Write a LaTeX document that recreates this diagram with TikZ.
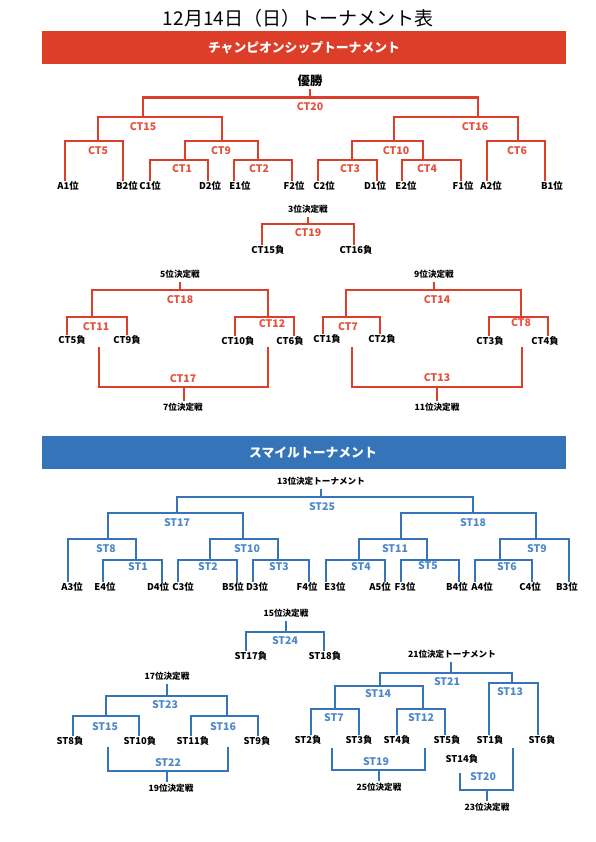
\documentclass[tikz,border=0pt]{standalone}
\usepackage{fontspec}
\setmainfont{Noto Sans CJK JP}
\newfontfamily\jp{Noto Sans CJK JP}
\definecolor{cred}{HTML}{DD3E2A}
\definecolor{ctxt}{HTML}{E4513E}
\definecolor{cblue}{HTML}{3574B8}
\definecolor{btxt}{HTML}{4C88C8}
\newcommand\bra[6]{\draw[#1] (#2,0 |- #5) -- (#2,#4) -- (#3,#4) -- (#3,0 |- #6);}
\tikzset{
  rl/.style={draw=cred, line width=2.9pt},
  bl/.style={draw=cblue, line width=2.9pt},
  lab/.style={font=\jp\bfseries\fontsize{9.4}{10}\selectfont, inner xsep=1pt, inner ysep=1.5pt, text height=6.8pt, text depth=1.2pt},
  rc/.style={font=\jp\bfseries\fontsize{10.5}{11}\selectfont, text=ctxt, inner sep=1pt},
  bc/.style={font=\jp\bfseries\fontsize{10.5}{11}\selectfont, text=btxt, inner sep=1pt},
  hd/.style={font=\jp\bfseries\fontsize{8.6}{9}\selectfont, inner xsep=1pt, inner ysep=3pt, text height=6.3pt, text depth=1.2pt},
  win/.style={font=\jp\bfseries\fontsize{12.5}{13}\selectfont, inner sep=1pt, text height=9.5pt, text depth=1.5pt},
  banner/.style={minimum width=524pt, minimum height=33.4pt, inner sep=0pt},
  bantext/.style={font=\jp\bfseries\fontsize{12.8}{13}\selectfont, text=white, inner sep=0pt}
}
\begin{document}
\begin{tikzpicture}[x=1pt,y=-1pt]
\useasboundingbox[fill=white] (0,0) rectangle (595,842);
% title
\node[font=\jp\fontsize{19}{20}\selectfont] (title) at (298,18) {12月14日（日）トーナメント表};
% red banner
\node[banner, fill=cred] (banC) at (304,47.3) {};
\node[bantext] (banCt) at (304,47.3) {チャンピオンシップトーナメント};
% ===== championship main =====
\node[win] (yusho) at (310,82) {優勝};
\foreach \n/\x/\t in {A1/68/A1位, B2/127/B2位, C1/150/C1位, D2/210/D2位, E1/240/E1位, F2/294/F2位, C2/324/C2位, D1/375/D1位, E2/406/E2位, F1/463/F1位, A2/491/A2位, B1/552/B1位}
  \node[lab] (\n) at (\x,187) {\t};
\draw[rl] (yusho.south) -- (310,97.7);
\bra{rl}{143}{478}{97.7}{0,117}{0,117}
\bra{rl}{98}{222}{117}{0,141}{0,141}
\bra{rl}{394}{518}{117}{0,141}{0,141}
\bra{rl}{65}{123}{141}{A1.north}{B2.north}
\bra{rl}{185}{258}{141}{0,160}{0,160}
\bra{rl}{352}{423}{141}{0,160}{0,160}
\bra{rl}{487}{545}{141}{A2.north}{B1.north}
\bra{rl}{150}{208}{160}{C1.north}{D2.north}
\bra{rl}{234}{292}{160}{E1.north}{F2.north}
\bra{rl}{318}{377}{160}{C2.north}{D1.north}
\bra{rl}{402}{461}{160}{E2.north}{F1.north}
\node[rc] (ct20) at (310,107) {CT20};
\node[rc] (ct15) at (143,127) {CT15};
\node[rc] (ct16) at (475,127) {CT16};
\node[rc] (ct5) at (98,151) {CT5};
\node[rc] (ct9) at (221,151) {CT9};
\node[rc] (ct10) at (396,151) {CT10};
\node[rc] (ct6) at (517,151) {CT6};
\node[rc] (ct1) at (182,169) {CT1};
\node[rc] (ct2) at (259,169) {CT2};
\node[rc] (ct3) at (350,169) {CT3};
\node[rc] (ct4) at (427,169) {CT4};
% ===== 3rd place =====
\node[hd] (h3) at (308,210) {3位決定戦};
\node[lab] (L15) at (268,251) {CT15負};
\node[lab] (L16) at (356,251) {CT16負};
\draw[rl] (h3.south) -- (308,224);
\bra{rl}{262}{354}{224}{L15.north}{L16.north}
\node[rc] (ct19) at (308,233) {CT19};
% ===== 5th place =====
\node[hd] (h5) at (180,275) {5位決定戦};
\node[lab] (L5) at (72,341) {CT5負};
\node[lab] (L9) at (127,341) {CT9負};
\node[lab] (L10) at (238,342) {CT10負};
\node[lab] (L6) at (290,342) {CT6負};
\draw[rl] (h5.south) -- (180,290);
\bra{rl}{92}{268}{290}{0,317}{0,317}
\bra{rl}{67}{127}{317}{L5.north}{L9.north}
\bra{rl}{235}{294}{317}{L10.north}{L6.north}
\node[rc] (ct18) at (180,300) {CT18};
\node[rc] (ct11) at (96,327) {CT11};
\node[rc] (ct12) at (272,324) {CT12};
\node[hd] (h7) at (183,408) {7位決定戦};
\coordinate (c17a) at (99,347);
\coordinate (c17b) at (268,347);
\draw[rl] (c17a) -- (99,387) -- (268,387) -- (c17b);
\draw[rl] (184,387) -- (184,0 |- h7.north);
\node[rc] (ct17) at (183,379) {CT17};
% ===== 9th place =====
\node[hd] (h9) at (434,275) {9位決定戦};
\node[lab] (L1) at (327,340) {CT1負};
\node[lab] (L2) at (382,340) {CT2負};
\node[lab] (L3) at (490,342) {CT3負};
\node[lab] (L4) at (545,342) {CT4負};
\draw[rl] (h9.south) -- (434,290);
\bra{rl}{346}{521}{290}{0,317}{0,317}
\bra{rl}{323}{380}{317}{L1.north}{L2.north}
\bra{rl}{489}{548}{317}{L3.north}{L4.north}
\node[rc] (ct14) at (437,300) {CT14};
\node[rc] (ct7) at (348,327) {CT7};
\node[rc] (ct8) at (521,323) {CT8};
\node[hd] (h11) at (437,408) {11位決定戦};
\coordinate (c13a) at (352,347);
\coordinate (c13b) at (522,347);
\draw[rl] (c13a) -- (352,387) -- (522,387) -- (c13b);
\draw[rl] (437,387) -- (437,0 |- h11.north);
\node[rc] (ct13) at (437,378) {CT13};
% ===== smile banner =====
\node[banner, fill=cblue] (banS) at (304,452.5) {};
\node[bantext] (banSt) at (313,453) {スマイルトーナメント};
% ===== 13th place tournament =====
\node[hd] (h13) at (321,482) {13位決定トーナメント};
\foreach \n/\x/\t in {A3/72/A3位, E4/105/E4位, D4/158/D4位, C3/183/C3位, B5/233/B5位, D3/257/D3位, F4/307/F4位, E3/335/E3位, A5/380/A5位, F3/405/F3位, B4/457/B4位, A4/482/A4位, C4/530/C4位, B3/567/B3位}
  \node[lab] (\n) at (\x,588) {\t};
\draw[bl] (h13.south) -- (321,497);
\bra{bl}{177}{473}{497}{0,513}{0,513}
\bra{bl}{108}{243}{513}{0,539}{0,539}
\bra{bl}{401}{536}{513}{0,539}{0,539}
\bra{bl}{68}{136}{539}{A3.north}{0,560}
\bra{bl}{210}{278}{539}{0,560}{0,560}
\bra{bl}{359}{427}{539}{0,560}{0,560}
\bra{bl}{500}{569}{539}{0,560}{B3.north}
\bra{bl}{103}{162}{560}{E4.north}{D4.north}
\bra{bl}{178}{237}{560}{C3.north}{B5.north}
\bra{bl}{253}{309}{560}{D3.north}{F4.north}
\bra{bl}{326}{385}{560}{E3.north}{A5.north}
\bra{bl}{401}{459}{560}{F3.north}{B4.north}
\bra{bl}{475}{532}{560}{A4.north}{C4.north}
\node[bc] (st25) at (322,507) {ST25};
\node[bc] (st17) at (177,523) {ST17};
\node[bc] (st18) at (473,523) {ST18};
\node[bc] (st8) at (106,549) {ST8};
\node[bc] (st10) at (247,549) {ST10};
\node[bc] (st11) at (395,549) {ST11};
\node[bc] (st9) at (537,549) {ST9};
\node[bc] (st1) at (138,567) {ST1};
\node[bc] (st2) at (208,567) {ST2};
\node[bc] (st3) at (279,567) {ST3};
\node[bc] (st4) at (361,567) {ST4};
\node[bc] (st5) at (428,566) {ST5};
\node[bc] (st6) at (507,567) {ST6};
% ===== 15th place =====
\node[hd] (h15) at (286,614) {15位決定戦};
\node[lab] (S17L) at (251,657) {ST17負};
\node[lab] (S18L) at (325,657) {ST18負};
\draw[bl] (h15.south) -- (286,632);
\bra{bl}{246}{324}{632}{S17L.north}{S18L.north}
\node[bc] (st24) at (285,641) {ST24};
% ===== 17th place =====
\node[hd] (h17) at (167,677) {17位決定戦};
\node[lab] (S8L) at (70,742) {ST8負};
\node[lab] (S10L) at (140,742) {ST10負};
\node[lab] (S11L) at (193,742) {ST11負};
\node[lab] (S9L) at (257,742) {ST9負};
\draw[bl] (h17.south) -- (167,696);
\bra{bl}{106}{227}{696}{0,716}{0,716}
\bra{bl}{73}{139}{716}{S8L.north}{S10L.north}
\bra{bl}{191}{258}{716}{S11L.north}{S9L.north}
\node[bc] (st23) at (165,705) {ST23};
\node[bc] (st15) at (105,727) {ST15};
\node[bc] (st16) at (223,727) {ST16};
\node[hd] (h19) at (171,789) {19位決定戦};
\coordinate (c22a) at (108,747);
\coordinate (c22b) at (228,747);
\draw[bl] (c22a) -- (108,771) -- (228,771) -- (c22b);
\draw[bl] (167,771) -- (167,0 |- h19.north);
\node[bc] (st22) at (168,763) {ST22};
% ===== 21st place tournament =====
\node[hd] (h21) at (452,655) {21位決定トーナメント};
\node[lab] (S2L) at (308,741) {ST2負};
\node[lab] (S3L) at (359,741) {ST3負};
\node[lab] (S4L) at (397,741) {ST4負};
\node[lab] (S5L) at (447,741) {ST5負};
\node[lab] (S1L) at (490,741) {ST1負};
\node[lab] (S6L) at (542,741) {ST6負};
\draw[bl] (451,0 |- h21.south) -- (451,673);
\bra{bl}{380}{512}{673}{0,686}{0,683}
\bra{bl}{335}{423}{686}{0,709}{0,709}
\bra{bl}{489}{538}{683}{S1L.north}{S6L.north}
\bra{bl}{311}{359}{709}{S2L.north}{S3L.north}
\bra{bl}{397}{445}{709}{S4L.north}{S5L.north}
\node[bc] (st21) at (447,682) {ST21};
\node[bc] (st14) at (378,694) {ST14};
\node[bc] (st13) at (510,692) {ST13};
\node[bc] (st7) at (334,718) {ST7};
\node[bc] (st12) at (421,718) {ST12};
\node[hd] (h25) at (379,788) {25位決定戦};
\coordinate (c19a) at (332,748);
\coordinate (c19b) at (425,748);
\draw[bl] (c19a) -- (332,770) -- (425,770) -- (c19b);
\draw[bl] (379,770) -- (379,0 |- h25.north);
\node[bc] (st19) at (376,762) {ST19};
\node[lab] (S14L) at (462,760) {ST14負};
\node[hd] (h23) at (487,808) {23位決定戦};
\coordinate (c20a) at (460,773);
\coordinate (c20b) at (513,748);
\draw[bl] (c20a) -- (460,790) -- (513,790) -- (c20b);
\draw[bl] (487,790) -- (487,0 |- h23.north);
\node[bc] (st20) at (483,777) {ST20};
\end{tikzpicture}
\end{document}
